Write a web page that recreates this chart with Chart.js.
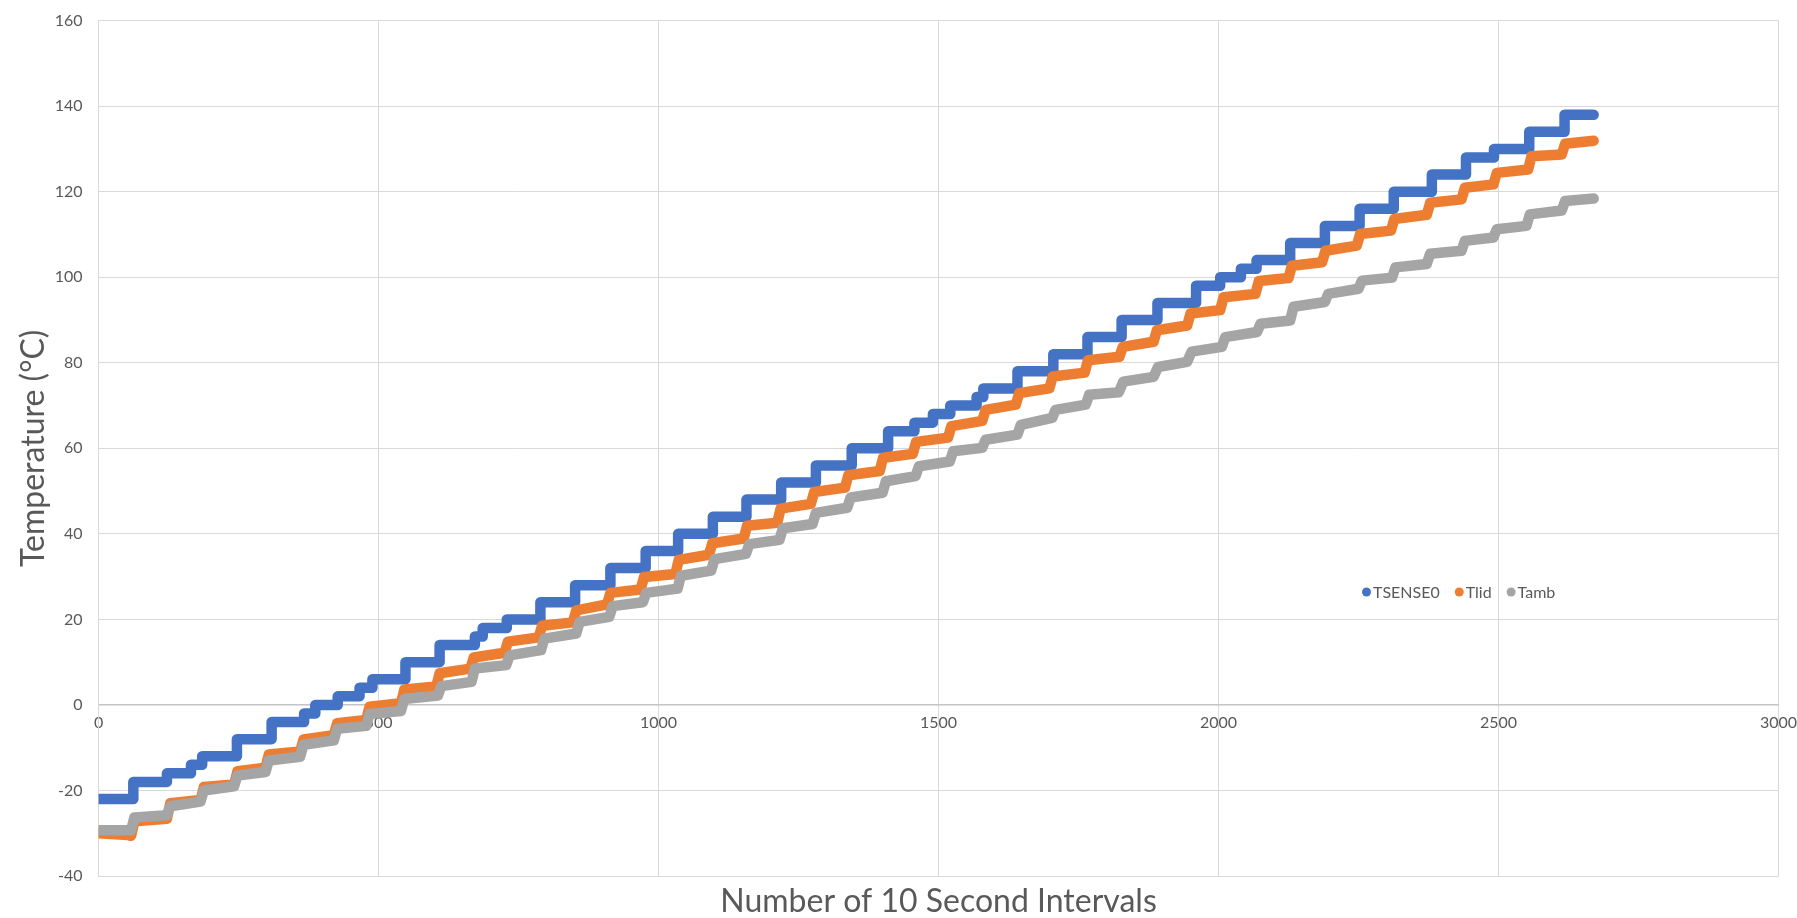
<!DOCTYPE html>
<html>
<head>
<meta charset="utf-8">
<script src="https://cdn.jsdelivr.net/npm/chart.js@4.4.1/dist/chart.umd.min.js"></script>
<style>
  html, body { margin: 0; padding: 0; background: #fff; }
  #chart { display: block; }
</style>
</head>
<body>
<canvas id="chart" width="1797" height="918"></canvas>
<script>
const FONT = "Lato, 'Open Sans', sans-serif";
const TEXT_COLOR = "#595959";
const GRID_COLOR = "#d9d9d9";

const SERIES_NAMES = ["TSENSE0", "Tlid", "Tamb"];
const SERIES_COLORS = ["#4472C4", "#ED7D31", "#A5A5A5"];

const X_TICKS = [0, 500, 1000, 1500, 2000, 2500, 3000];
const Y_TICKS = [-40, -20, 0, 20, 40, 60, 80, 100, 120, 140, 160];

// TSENSE0 moves in 2 degree steps: interval where each level starts
const tsenseX = [0, 62, 122, 165, 185, 247, 309, 367, 387, 427, 466, 489, 548, 609, 672,
  686, 729, 789, 851, 914, 977, 1035, 1097, 1157, 1219, 1281, 1345, 1410, 1457, 1490,
  1521, 1568, 1580, 1641, 1705, 1766, 1827, 1891, 1960, 2003, 2040, 2068, 2128, 2190,
  2252, 2313, 2381, 2442, 2492, 2555, 2618, 2670];
const tsenseY = [-22, -18, -16, -14, -12, -8, -4, -2, 0, 2, 4, 6, 10, 14, 16,
  18, 20, 24, 28, 32, 36, 40, 44, 48, 52, 56, 60, 64, 66, 68,
  70, 72, 74, 78, 82, 86, 90, 94, 98, 100, 102, 104, 108, 112,
  116, 120, 124, 128, 130, 134, 138, 138];

// Tlid: corners of each ramp / plateau
const tlidX = [0, 52, 58, 64, 122, 128, 182, 188, 242, 248, 298, 304, 360, 366, 420, 426,
  478, 484, 540, 546, 603, 609, 664, 670, 725, 731, 786, 792, 847, 853, 908, 914, 968, 974,
  1030, 1036, 1090, 1096, 1152, 1158, 1212, 1218, 1272, 1278, 1333, 1339, 1395, 1401,
  1454, 1460, 1517, 1523, 1578, 1584, 1638, 1644, 1698, 1704, 1761, 1767, 1823, 1829,
  1884, 1890, 1944, 1950, 2003, 2009, 2066, 2072, 2125, 2131, 2185, 2191, 2247, 2253,
  2308, 2314, 2372, 2378, 2434, 2440, 2491, 2497, 2553, 2559, 2613, 2619, 2670];
const tlidY = [-30.0, -30.4, -30.6, -27.2, -26.6, -23.0, -22.2, -19.2, -18.6, -15.5,
  -14.7, -11.6, -10.9, -8.1, -7.1, -4.3, -3.5, -0.4, 0.4, 3.6,
  4.3, 7.4, 8.5, 11.1, 12.2, 14.8, 15.8, 18.5, 19.3, 22.1,
  23.5, 26.2, 27.0, 29.9, 30.6, 33.9, 35.1, 37.8, 38.9, 41.9,
  42.6, 45.9, 47.0, 49.8, 50.8, 53.7, 54.7, 57.8, 58.7, 61.5,
  62.5, 65.2, 66.4, 69.0, 70.2, 72.9, 74.0, 76.8, 77.7, 80.6,
  81.4, 83.7, 84.9, 87.6, 88.7, 91.5, 92.3, 95.3, 96.1, 99.1,
  99.8, 102.7, 103.5, 106.2, 107.4, 110.1, 110.9, 113.6, 114.6, 117.4,
  118.2, 120.9, 121.7, 124.4, 125.2, 128.3, 128.7, 131.2, 131.9];

// Tamb
const tambX = [0, 58, 64, 122, 128, 182, 188, 242, 248, 298, 304, 360, 366, 420, 426, 478,
  484, 540, 546, 606, 612, 666, 672, 728, 734, 790, 796, 853, 859, 912, 918, 972, 978,
  1034, 1040, 1094, 1100, 1156, 1162, 1216, 1222, 1275, 1281, 1337, 1343, 1400, 1406,
  1459, 1465, 1520, 1526, 1578, 1584, 1641, 1647, 1703, 1709, 1763, 1769, 1822, 1830,
  1884, 1892, 1944, 1952, 2006, 2012, 2069, 2075, 2128, 2134, 2190, 2196, 2250, 2256,
  2310, 2316, 2372, 2378, 2434, 2440, 2491, 2497, 2550, 2556, 2613, 2619, 2670];
const tambY = [-29.3, -29.3, -26.3, -25.8, -23.7, -22.6, -20.0, -19.0, -16.5, -15.7,
  -13.0, -12.1, -9.3, -8.3, -5.6, -4.9, -2.1, -1.4, 1.4, 2.2,
  4.4, 5.4, 8.5, 9.3, 11.6, 12.8, 15.5, 16.7, 19.4, 20.6,
  23.1, 24.0, 26.2, 27.2, 30.2, 31.4, 34.1, 35.3, 37.6, 38.6,
  41.3, 42.3, 44.9, 46.1, 48.5, 49.6, 52.3, 53.5, 55.8, 56.9,
  59.3, 60.1, 62.0, 63.2, 65.5, 67.1, 69.0, 70.2, 72.5, 73.1,
  75.6, 76.7, 79.0, 80.2, 82.6, 83.7, 86.0, 87.2, 89.1, 89.9,
  93.1, 94.2, 96.1, 97.3, 99.2, 99.9, 102.3, 103.1, 105.5, 106.2,
  108.5, 109.3, 111.2, 112.0, 114.7, 115.6, 117.8, 118.4];

function pairs(xs, ys) {
  return xs.map((x, i) => ({ x: x, y: ys[i] }));
}

function series(i, xs, ys, stepped) {
  return {
    label: SERIES_NAMES[i],
    data: pairs(xs, ys),
    borderColor: SERIES_COLORS[i],
    backgroundColor: SERIES_COLORS[i],
    borderWidth: 10.5,
    borderCapStyle: "round",
    borderJoinStyle: "round",
    stepped: stepped,
    showLine: true,
    pointRadius: 0,
    order: 3 - i,
  };
}

// legend sits inside the plot, to the right
const insideLegend = {
  id: "insideLegend",
  afterDraw(chart) {
    const ctx = chart.ctx;
    let x = 1362;
    const y = 592;
    ctx.save();
    ctx.font = "16px " + FONT;
    ctx.textBaseline = "middle";
    chart.data.datasets.forEach((ds) => {
      ctx.fillStyle = ds.borderColor;
      ctx.beginPath();
      ctx.arc(x + 4.5, y, 4.5, 0, Math.PI * 2);
      ctx.fill();
      ctx.fillStyle = TEXT_COLOR;
      ctx.fillText(ds.label, x + 11, y + 1);
      x += 11 + ctx.measureText(ds.label).width + 15;
    });
    ctx.restore();
  },
};

new Chart(document.getElementById("chart"), {
  type: "scatter",
  data: {
    datasets: [
      series(0, tsenseX, tsenseY, true),
      series(1, tlidX, tlidY, false),
      series(2, tambX, tambY, false),
    ],
  },
  options: {
    responsive: false,
    animation: false,
    devicePixelRatio: 1,
    layout: { padding: { top: 20.6, right: 18.3, bottom: 0, left: 0 } },
    plugins: {
      legend: { display: false },
      tooltip: { enabled: false },
      title: {
        display: true,
        position: "bottom",
        fullSize: false,
        text: "Number of 10 Second Intervals",
        color: TEXT_COLOR,
        font: { family: FONT, size: 32, weight: "normal", lineHeight: 1 },
        padding: { top: 10, bottom: 0 },
      },
    },
    scales: {
      x: {
        type: "linear",
        position: { y: 0 },
        min: X_TICKS[0],
        max: X_TICKS[X_TICKS.length - 1],
        ticks: {
          stepSize: X_TICKS[1] - X_TICKS[0],
          color: TEXT_COLOR,
          font: { family: FONT, size: 16 },
          padding: 0,
          maxRotation: 0,
          callback: (v) => String(v),
        },
        // invisible tick marks keep the labels off the axis line
        grid: { color: GRID_COLOR, drawTicks: true, tickLength: 8, tickColor: "rgba(0,0,0,0)" },
        border: { color: "#c4c4c4", width: 1.5 },
      },
      y: {
        min: Y_TICKS[0],
        max: Y_TICKS[Y_TICKS.length - 1],
        ticks: {
          stepSize: Y_TICKS[1] - Y_TICKS[0],
          color: TEXT_COLOR,
          font: { family: FONT, size: 16 },
          padding: 0,
        },
        grid: { color: GRID_COLOR, drawTicks: true, tickLength: 16, tickColor: "rgba(0,0,0,0)" },
        border: { color: GRID_COLOR },
        title: {
          display: true,
          text: "Temperature (°C)",
          color: TEXT_COLOR,
          font: { family: FONT, size: 32, weight: "normal", lineHeight: 1 },
          padding: { top: 18, bottom: 0 },
        },
        afterFit: (scale) => { scale.width = 98.6; },
      },
    },
  },
  plugins: [insideLegend],
});
</script>
</body>
</html>
